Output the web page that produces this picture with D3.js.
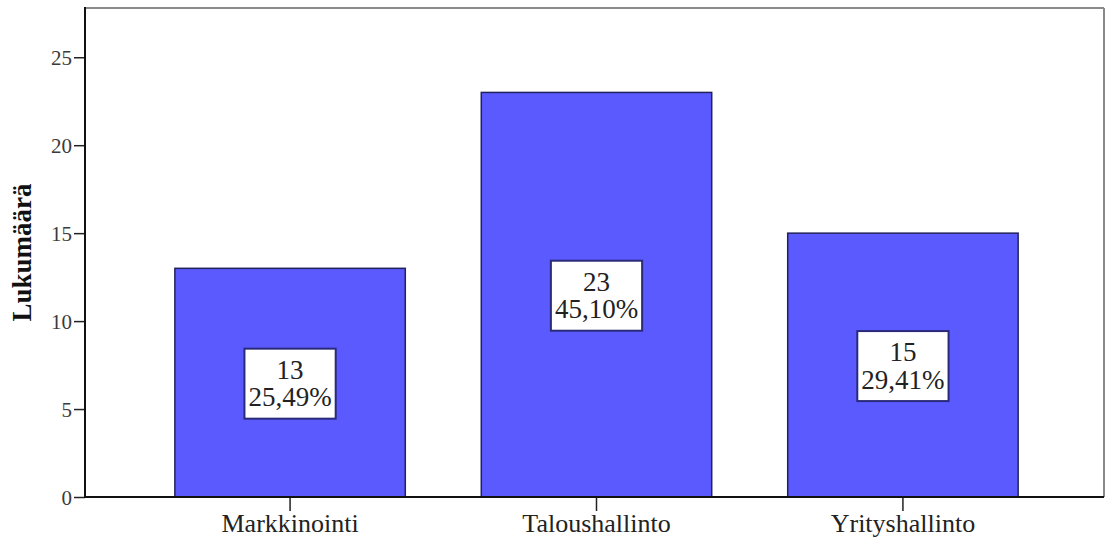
<!DOCTYPE html>
<html>
<head>
<meta charset="utf-8">
<script src="https://cdn.jsdelivr.net/npm/d3@7"></script>
<style>
  html, body { margin: 0; padding: 0; background: #ffffff; }
  svg { display: block; }
</style>
</head>
<body>
<svg id="chart" width="1107" height="547"></svg>
<script>
// Count of respondents by field
const categories = ["Markkinointi", "Taloushallinto", "Yrityshallinto"];
const counts = [13, 23, 15];
const yTicks = [0, 5, 10, 15, 20, 25];
const yTitle = "Lukumäärä";

const FONT = "'Liberation Serif', 'Times New Roman', Times, 'DejaVu Serif', serif";

const total = d3.sum(counts);
const pctFmt = d3.format(".2f");
const pctLabel = v => pctFmt(v / total * 100).replace(".", ",") + "%";

const plot = { left: 85, right: 1104, top: 8, bottom: 497 };

const svg = d3.select("#chart");

const x = d3.scaleBand()
  .domain(categories)
  .range([plot.left + 1, plot.right + 3])
  .paddingInner(0.248)
  .paddingOuter(0.29);

const y = d3.scaleLinear()
  .domain([0, 27.8])
  .range([plot.bottom, plot.top]);

// plot frame: grey top and right edges
svg.append("line")
  .attr("x1", plot.left).attr("x2", plot.right)
  .attr("y1", plot.top).attr("y2", plot.top)
  .attr("stroke", "#8a8a8a").attr("stroke-width", 2);
svg.append("line")
  .attr("x1", plot.right).attr("x2", plot.right)
  .attr("y1", plot.top).attr("y2", plot.bottom)
  .attr("stroke", "#8a8a8a").attr("stroke-width", 2);

// bars
const data = categories.map((c, i) => ({ cat: c, n: counts[i] }));
svg.append("g").selectAll("rect")
  .data(data)
  .join("rect")
  .attr("x", d => x(d.cat))
  .attr("y", d => y(d.n))
  .attr("width", x.bandwidth())
  .attr("height", d => y(0) - y(d.n))
  .attr("fill", "#5a5aff")
  .attr("stroke", "#22225a")
  .attr("stroke-width", 1.5);

// y axis
const yAxis = svg.append("g")
  .attr("transform", `translate(${plot.left},0)`)
  .call(d3.axisLeft(y).tickValues(yTicks).tickSize(11).tickPadding(2).tickFormat(d3.format("d")));
yAxis.attr("font-family", null);
yAxis.select(".domain").remove();
yAxis.selectAll(".tick line").attr("stroke", "#222").attr("stroke-width", 1.5);
yAxis.selectAll(".tick text")
  .attr("fill", "#3a3a3a")
  .style("font-family", FONT)
  .style("font-size", "21px")
  .attr("dy", "0.34em");
svg.append("line")
  .attr("x1", plot.left).attr("x2", plot.left)
  .attr("y1", plot.top - 1).attr("y2", plot.bottom + 1)
  .attr("stroke", "#111").attr("stroke-width", 2);

// x axis
const xAxis = svg.append("g")
  .attr("transform", `translate(0,${plot.bottom})`)
  .call(d3.axisBottom(x).tickSize(14).tickPadding(3));
xAxis.attr("font-family", null);
xAxis.select(".domain").remove();
xAxis.selectAll(".tick line").attr("stroke", "#222").attr("stroke-width", 1.5);
xAxis.selectAll(".tick text")
  .attr("fill", "#222")
  .style("font-family", FONT)
  .style("font-size", "26px")
  .attr("dy", "0.68em");
svg.append("line")
  .attr("x1", plot.left).attr("x2", plot.right)
  .attr("y1", plot.bottom).attr("y2", plot.bottom)
  .attr("stroke", "#111").attr("stroke-width", 2);

// y axis title
svg.append("text")
  .attr("transform", `translate(31,${(plot.top + plot.bottom) / 2}) rotate(-90)`)
  .attr("text-anchor", "middle")
  .style("font-family", FONT)
  .style("font-size", "27px")
  .style("font-weight", "bold")
  .attr("fill", "#111")
  .text(yTitle);

// value labels in boxes at bar mid-height
const lab = svg.append("g").selectAll("g")
  .data(data)
  .join("g")
  .attr("transform", d => `translate(${x(d.cat) + x.bandwidth() / 2},${y(d.n / 2)})`);

lab.each(function (d) {
  const g = d3.select(this);
  const box = g.append("rect")
    .attr("fill", "#ffffff")
    .attr("stroke", "#2a2a7a")
    .attr("stroke-width", 2);
  const t = g.append("text")
    .attr("text-anchor", "middle")
    .style("font-family", FONT)
    .style("font-size", "27px")
    .attr("fill", "#222");
  t.append("tspan").attr("x", 0).attr("y", -4).text(d.n);
  t.append("tspan").attr("x", 0).attr("y", 23.5).text(pctLabel(d.n));
  const bb = t.node().getBBox();
  const w = bb.width + 8;
  box.attr("x", -w / 2).attr("y", -34).attr("width", w).attr("height", 70);
});
</script>
</body>
</html>
